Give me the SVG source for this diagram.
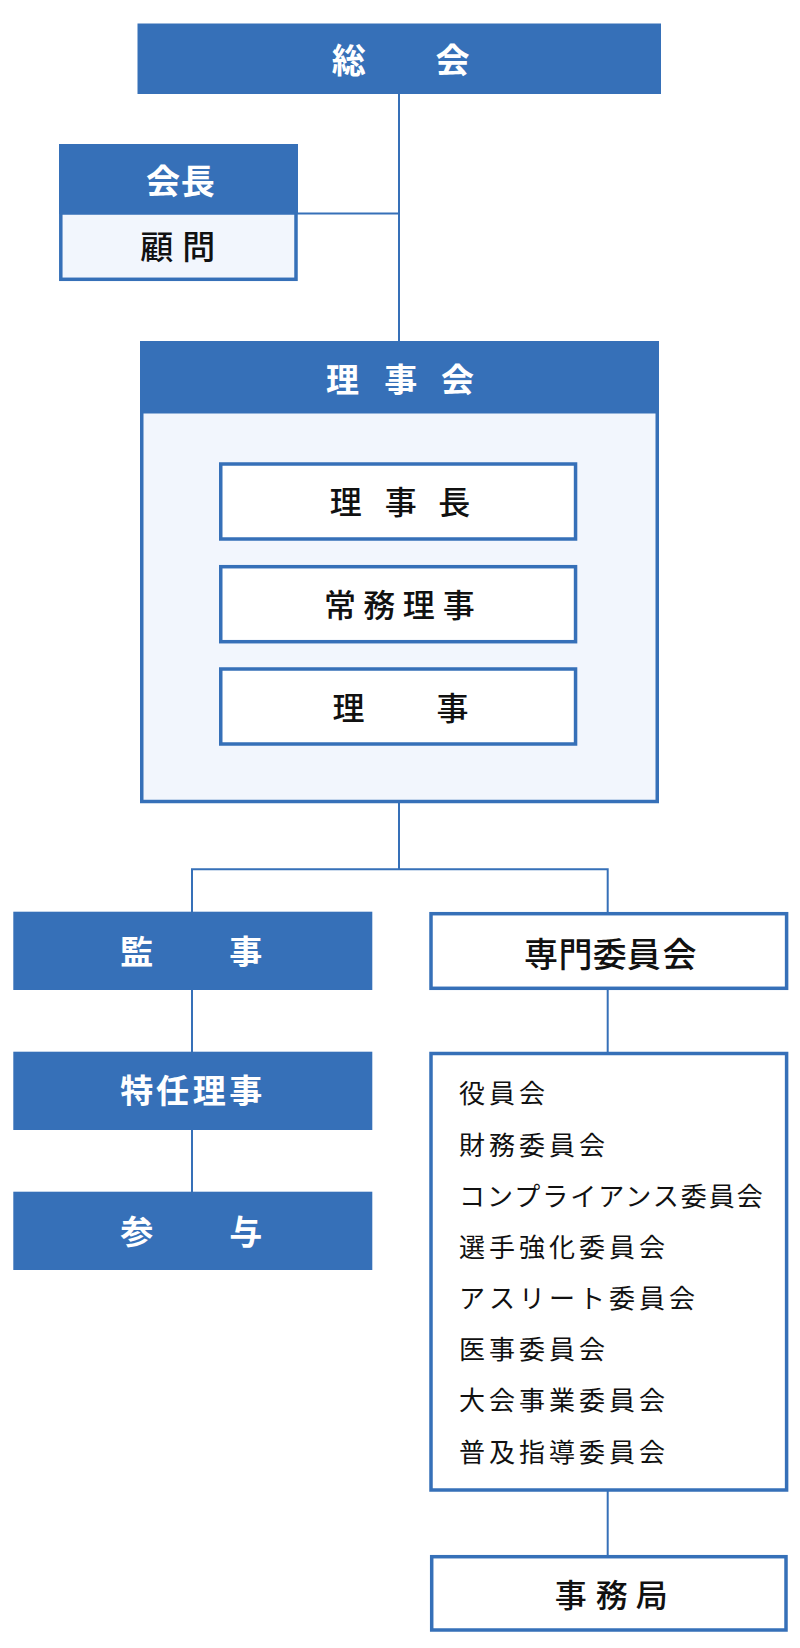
<svg xmlns="http://www.w3.org/2000/svg" width="800" height="1648" viewBox="0 0 800 1648">
<style>
.blue{fill:#3670B8;}
.frame{fill:#F2F6FD;stroke:#3670B8;stroke-width:3.5;}
.wbox{fill:#FFFFFF;stroke:#3670B8;stroke-width:3.5;}
.conn{fill:none;stroke:#3670B8;stroke-width:2;}
text{font-family:"Noto Sans CJK JP","Noto Sans",sans-serif;dominant-baseline:central;}
.wh{fill:#FFFFFF;font-weight:700;text-anchor:middle;}
.bk{fill:#111111;font-weight:500;text-anchor:middle;}
.li{fill:#111111;font-weight:400;font-size:26px;letter-spacing:4px;}
</style>
<rect width="800" height="1648" fill="#FFFFFF"/>
<g id="connectors">
<path class="conn" d="M399 94 V341"/>
<path class="conn" d="M297 213.5 H399"/>
<path class="conn" d="M399 803 V869.3 M192 912 V869.3 H607.7 V912"/>
<path class="conn" d="M192 990 V1052"/>
<path class="conn" d="M192 1130 V1192"/>
<path class="conn" d="M607.7 990 V1052"/>
<path class="conn" d="M607.7 1491 V1555"/>
</g>
<g id="soukai">
<rect class="blue" x="137.5" y="23.5" width="523.5" height="70.5"/>
<text class="wh" font-size="34" x="348.7 452.5" y="58.8">総会</text>
</g>
<g id="kaicho">
<rect class="frame" x="60.8" y="213" width="235.2" height="66.3" style="stroke-width:3.5"/>
<rect class="blue" x="59" y="144" width="239" height="70"/>
<text class="wh" font-size="34" x="163 197.8" y="179">会長</text>
<text class="bk" font-size="33" x="156.7 198.7" y="245.3">顧問</text>
</g>
<g id="rijikai">
<rect class="frame" x="141.75" y="343" width="515.5" height="458.5"/>
<rect class="blue" x="140" y="341" width="519" height="72.5"/>
<text class="wh" font-size="33" x="342.5 400.8 457.5" y="378.3">理事会</text>
</g>
<g id="rijicho">
<rect class="wbox" x="220.75" y="464" width="354.8" height="75"/>
<text class="bk" font-size="32" x="345.8 400.8 454.2" y="500">理事長</text>
</g>
<g id="jomuriji">
<rect class="wbox" x="220.75" y="566.7" width="354.8" height="75"/>
<text class="bk" font-size="32" x="340 379.2 418.7 458.7" y="602.8">常務理事</text>
</g>
<g id="riji">
<rect class="wbox" x="220.75" y="669" width="354.8" height="75"/>
<text class="bk" font-size="32" x="348.5 452.5" y="705.8">理事</text>
</g>
<g id="kanji">
<rect class="blue" x="13.3" y="911.7" width="359" height="78.3"/>
<text class="wh" font-size="33" x="136.7 245.8" y="949.5">監事</text>
</g>
<g id="tokuninriji">
<rect class="blue" x="13.3" y="1051.7" width="359" height="78.3"/>
<text class="wh" font-size="33" x="136.7 172.5 209.2 245.8" y="1089">特任理事</text>
</g>
<g id="sanyo">
<rect class="blue" x="13.3" y="1191.7" width="359" height="78.3"/>
<text class="wh" font-size="33" x="136.7 245.8" y="1230">参与</text>
</g>
<g id="senmon">
<rect class="wbox" x="431" y="913.7" width="355.6" height="74.6"/>
<text class="bk" font-size="34" x="541 575.5 609.7 643.8 679.5" y="952.5">専門委員会</text>
</g>
<g id="iinkai-list">
<rect class="wbox" x="431" y="1053.5" width="355.6" height="436.5"/>
<text class="li" x="459" y="1091.7">役員会</text>
<text class="li" x="459" y="1143.3">財務委員会</text>
<text class="li" x="459" y="1194.5" style="letter-spacing:2px">コンプライアンス委員会</text>
<text class="li" x="459" y="1245">選手強化委員会</text>
<text class="li" x="459" y="1296.5">アスリート委員会</text>
<text class="li" x="459" y="1347.5">医事委員会</text>
<text class="li" x="459" y="1398.5">大会事業委員会</text>
<text class="li" x="459" y="1450">普及指導委員会</text>
</g>
<g id="jimukyoku">
<rect class="wbox" x="431.7" y="1556.7" width="354.3" height="73.3"/>
<text class="bk" font-size="32" x="570.8 611.7 651.7" y="1593">事務局</text>
</g>
</svg>
